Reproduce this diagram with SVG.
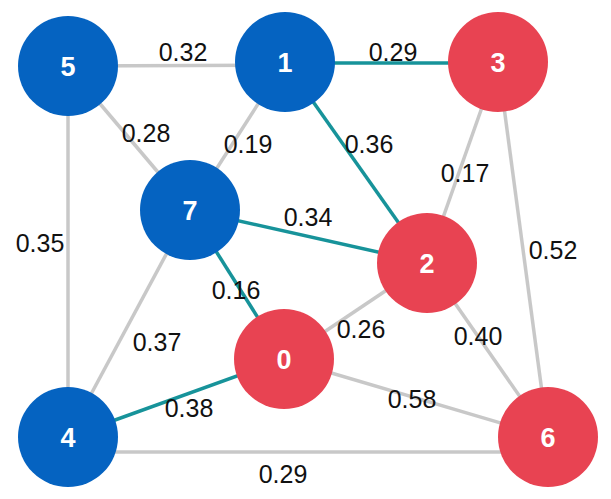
<svg xmlns="http://www.w3.org/2000/svg" width="611" height="499" viewBox="0 0 611 499">
<style>
.e{stroke:#c8c8c8;stroke-width:3.5;fill:none}
.t{stroke:#17939a;stroke-width:3.5;fill:none}
.lbl{font-family:"Liberation Sans",Arial,sans-serif;font-size:25px;fill:#111;text-anchor:middle}
.blue{fill:#0563c1}
.red{fill:#e84352}
.nl{font-family:"Liberation Sans",Arial,sans-serif;font-size:27px;font-weight:bold;fill:#fff;text-anchor:middle}
</style>
<rect width="611" height="499" fill="#fff"/>
<g id="connectors">
<line class="e" x1="68" y1="66" x2="285" y2="65"/>
<line class="t" x1="285" y1="63" x2="498" y2="63"/>
<line class="e" x1="68" y1="66" x2="190" y2="210"/>
<line class="e" x1="285" y1="62" x2="190" y2="210"/>
<line class="t" x1="285" y1="62" x2="427" y2="263"/>
<line class="e" x1="498" y1="62" x2="427" y2="263"/>
<line class="e" x1="498" y1="62" x2="548" y2="437"/>
<line class="t" x1="190" y1="210" x2="427" y2="263"/>
<line class="e" x1="68" y1="66" x2="68" y2="437"/>
<line class="t" x1="190" y1="210" x2="284" y2="359"/>
<line class="e" x1="190" y1="210" x2="68" y2="437"/>
<line class="e" x1="284" y1="359" x2="427" y2="263"/>
<line class="e" x1="427" y1="263" x2="548" y2="437"/>
<line class="t" x1="284" y1="359" x2="68" y2="437"/>
<line class="e" x1="284" y1="359" x2="548" y2="437"/>
<line class="e" x1="68" y1="452" x2="548" y2="452"/>
<g class="lbl">
<text x="183" y="61">0.32</text>
<text x="393" y="61">0.29</text>
<text x="146" y="142">0.28</text>
<text x="248" y="153">0.19</text>
<text x="369" y="153">0.36</text>
<text x="465" y="182">0.17</text>
<text x="308" y="226">0.34</text>
<text x="40" y="252">0.35</text>
<text x="553" y="259">0.52</text>
<text x="236" y="299">0.16</text>
<text x="157" y="351">0.37</text>
<text x="361" y="338">0.26</text>
<text x="478" y="345">0.40</text>
<text x="189" y="417">0.38</text>
<text x="412" y="408">0.58</text>
<text x="283" y="483">0.29</text>
</g>
</g>
<g id="node5"><circle class="blue" cx="68" cy="66" r="50"/><text class="nl" x="68" y="76">5</text></g>
<g id="node1"><circle class="blue" cx="285" cy="62" r="50"/><text class="nl" x="285" y="72">1</text></g>
<g id="node3"><circle class="red" cx="498" cy="62" r="50"/><text class="nl" x="498" y="72">3</text></g>
<g id="node7"><circle class="blue" cx="190" cy="210" r="50"/><text class="nl" x="190" y="220">7</text></g>
<g id="node2"><circle class="red" cx="427" cy="263" r="50"/><text class="nl" x="427" y="273">2</text></g>
<g id="node0"><circle class="red" cx="284" cy="359" r="50"/><text class="nl" x="284" y="369">0</text></g>
<g id="node4"><circle class="blue" cx="68" cy="437" r="50"/><text class="nl" x="68" y="447">4</text></g>
<g id="node6"><circle class="red" cx="548" cy="437" r="50"/><text class="nl" x="548" y="447">6</text></g>
</svg>
